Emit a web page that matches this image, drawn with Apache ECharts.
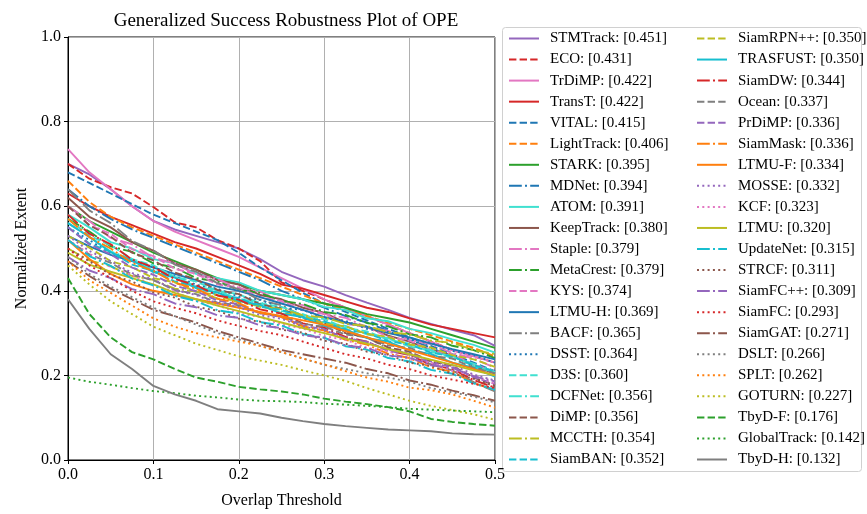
<!DOCTYPE html>
<html>
<head>
<meta charset="utf-8">
<script src="https://cdn.jsdelivr.net/npm/echarts@6/dist/echarts.min.js"></script>
<style>html,body{margin:0;padding:0;background:#fff}#c{width:867px;height:514px}</style>
</head>
<body>
<div id="c"></div>
<script>
// ---- data ----
const thresholds = [0,0.025,0.05,0.075,0.1,0.125,0.15,0.175,0.2,0.225,0.25,0.275,0.3,0.325,0.35,0.375,0.4,0.425,0.45,0.475,0.5];
const trackerNames = ['STMTrack','ECO','TrDiMP','TransT','VITAL','LightTrack','STARK','MDNet','ATOM','KeepTrack','Staple','MetaCrest','KYS','LTMU-H','BACF','DSST','D3S','DCFNet','DiMP','MCCTH','SiamBAN','SiamRPN++','TRASFUST','SiamDW','Ocean','PrDiMP','SiamMask','LTMU-F','MOSSE','KCF','LTMU','UpdateNet','STRCF','SiamFC++','SiamFC','SiamGAT','DSLT','SPLT','GOTURN','TbyD-F','GlobalTrack','TbyD-H'];
const trackerScores = ['0.451','0.431','0.422','0.422','0.415','0.406','0.395','0.394','0.391','0.380','0.379','0.379','0.374','0.369','0.365','0.364','0.360','0.356','0.356','0.354','0.352','0.350','0.350','0.344','0.337','0.336','0.336','0.334','0.332','0.323','0.320','0.315','0.311','0.309','0.293','0.271','0.266','0.262','0.227','0.176','0.142','0.132'];

const STMTrack = [0.70,0.675,0.64,0.60,0.565,0.545,0.53,0.515,0.50,0.475,0.445,0.425,0.41,0.39,0.372,0.355,0.336,0.322,0.308,0.295,0.27];
const ECO = [0.70,0.665,0.645,0.63,0.598,0.562,0.55,0.52,0.50,0.47,0.42,0.40,0.38,0.36,0.34,0.32,0.30,0.28,0.26,0.245,0.23];
const TrDiMP = [0.735,0.68,0.64,0.60,0.565,0.54,0.52,0.50,0.48,0.455,0.43,0.405,0.38,0.36,0.34,0.32,0.30,0.28,0.26,0.245,0.23];
const TransT = [0.63,0.60,0.575,0.555,0.535,0.515,0.50,0.48,0.46,0.44,0.415,0.405,0.39,0.375,0.36,0.35,0.335,0.32,0.31,0.30,0.29];
const VITAL = [0.68,0.655,0.63,0.605,0.58,0.56,0.54,0.52,0.49,0.455,0.425,0.395,0.37,0.35,0.33,0.31,0.29,0.27,0.25,0.23,0.21];
const LightTrack = [0.66,0.61,0.575,0.55,0.53,0.51,0.49,0.47,0.45,0.43,0.41,0.39,0.37,0.355,0.34,0.325,0.31,0.295,0.28,0.265,0.245];
const STARK = [0.60,0.565,0.54,0.515,0.49,0.47,0.45,0.43,0.415,0.40,0.39,0.38,0.37,0.36,0.345,0.335,0.325,0.31,0.295,0.28,0.265];
const MDNet = [0.64,0.60,0.57,0.545,0.525,0.505,0.485,0.465,0.445,0.425,0.40,0.38,0.36,0.34,0.325,0.305,0.285,0.265,0.245,0.225,0.205];
const ATOM = [0.58,0.55,0.515,0.50,0.475,0.465,0.44,0.43,0.42,0.40,0.39,0.38,0.362,0.355,0.335,0.328,0.31,0.30,0.285,0.272,0.254];
const KeepTrack = [0.62,0.575,0.55,0.515,0.495,0.465,0.45,0.425,0.415,0.39,0.38,0.36,0.348,0.325,0.315,0.294,0.28,0.26,0.248,0.222,0.204];
const Staple = [0.60,0.565,0.525,0.51,0.478,0.465,0.438,0.428,0.405,0.398,0.375,0.366,0.345,0.336,0.314,0.305,0.284,0.274,0.253,0.24,0.218];
const MetaCrest = [0.57,0.54,0.505,0.492,0.465,0.455,0.43,0.422,0.402,0.395,0.376,0.369,0.35,0.343,0.324,0.316,0.297,0.29,0.27,0.26,0.241];
const KYS = [0.60,0.555,0.535,0.498,0.482,0.452,0.44,0.415,0.408,0.385,0.376,0.354,0.345,0.322,0.314,0.291,0.282,0.26,0.25,0.226,0.209];
const LTMU_H = [0.53,0.505,0.485,0.47,0.455,0.44,0.425,0.41,0.40,0.385,0.37,0.355,0.338,0.325,0.315,0.30,0.29,0.275,0.262,0.25,0.238];
const BACF = [0.64,0.59,0.56,0.518,0.495,0.462,0.445,0.418,0.404,0.378,0.366,0.34,0.328,0.302,0.29,0.263,0.25,0.226,0.212,0.184,0.162];
const DSST = [0.55,0.52,0.488,0.472,0.448,0.436,0.414,0.405,0.386,0.379,0.36,0.355,0.335,0.329,0.31,0.303,0.285,0.277,0.258,0.248,0.23];
const D3S = [0.57,0.53,0.508,0.475,0.46,0.433,0.422,0.40,0.392,0.37,0.362,0.342,0.333,0.312,0.304,0.284,0.275,0.255,0.246,0.222,0.207];
const DCFNet = [0.56,0.528,0.493,0.475,0.447,0.435,0.41,0.401,0.38,0.373,0.352,0.345,0.325,0.317,0.297,0.288,0.268,0.26,0.24,0.228,0.208];
const DiMP = [0.60,0.555,0.528,0.49,0.472,0.443,0.427,0.402,0.392,0.368,0.358,0.335,0.324,0.30,0.29,0.266,0.256,0.233,0.222,0.195,0.177];
const MCCTH = [0.50,0.472,0.458,0.435,0.426,0.405,0.398,0.382,0.377,0.362,0.357,0.342,0.337,0.322,0.317,0.302,0.297,0.282,0.277,0.26,0.25];
const SiamBAN = [0.55,0.512,0.492,0.462,0.447,0.422,0.41,0.39,0.383,0.362,0.355,0.336,0.328,0.308,0.30,0.281,0.273,0.254,0.245,0.224,0.209];
const SiamRPNpp = [0.53,0.502,0.47,0.456,0.43,0.42,0.398,0.39,0.372,0.366,0.347,0.341,0.322,0.316,0.298,0.291,0.273,0.266,0.248,0.238,0.22];
const TRASFUST = [0.56,0.527,0.491,0.472,0.444,0.431,0.406,0.396,0.376,0.367,0.346,0.338,0.317,0.309,0.288,0.28,0.259,0.251,0.23,0.218,0.197];
const SiamDW = [0.58,0.535,0.51,0.474,0.456,0.428,0.413,0.389,0.379,0.356,0.346,0.323,0.313,0.291,0.28,0.258,0.248,0.225,0.215,0.189,0.171];
const Ocean = [0.52,0.486,0.466,0.438,0.425,0.402,0.392,0.372,0.366,0.347,0.34,0.322,0.315,0.297,0.29,0.271,0.265,0.246,0.24,0.218,0.205];
const PrDiMP = [0.55,0.51,0.486,0.455,0.438,0.412,0.399,0.377,0.368,0.347,0.338,0.318,0.309,0.288,0.279,0.258,0.25,0.229,0.22,0.196,0.18];
const SiamMask = [0.57,0.527,0.50,0.466,0.447,0.419,0.405,0.381,0.371,0.348,0.338,0.316,0.306,0.284,0.273,0.251,0.241,0.219,0.209,0.182,0.165];
const LTMU_F = [0.52,0.475,0.44,0.415,0.40,0.39,0.38,0.37,0.36,0.35,0.34,0.33,0.32,0.305,0.29,0.275,0.26,0.245,0.23,0.215,0.20];
const MOSSE = [0.53,0.494,0.47,0.442,0.427,0.402,0.39,0.37,0.362,0.342,0.334,0.315,0.307,0.288,0.28,0.26,0.253,0.233,0.225,0.202,0.188];
const KCF = [0.52,0.488,0.456,0.437,0.412,0.398,0.376,0.366,0.347,0.338,0.32,0.311,0.293,0.284,0.265,0.257,0.238,0.23,0.211,0.199,0.18];
const LTMU = [0.49,0.462,0.445,0.43,0.415,0.395,0.38,0.365,0.352,0.338,0.325,0.312,0.30,0.287,0.275,0.262,0.25,0.237,0.225,0.212,0.20];
const UpdateNet = [0.52,0.482,0.459,0.429,0.413,0.388,0.376,0.354,0.346,0.326,0.318,0.298,0.289,0.269,0.261,0.241,0.233,0.213,0.204,0.181,0.166];
const STRCF = [0.50,0.47,0.438,0.422,0.396,0.384,0.362,0.353,0.334,0.327,0.308,0.301,0.282,0.275,0.256,0.249,0.23,0.223,0.204,0.192,0.174];
const SiamFCpp = [0.48,0.448,0.43,0.404,0.392,0.37,0.361,0.342,0.336,0.318,0.312,0.295,0.289,0.271,0.265,0.247,0.242,0.224,0.218,0.198,0.186];
const SiamFC = [0.50,0.46,0.43,0.40,0.375,0.36,0.347,0.33,0.317,0.305,0.295,0.28,0.265,0.25,0.24,0.225,0.215,0.20,0.19,0.18,0.17];
const SiamGAT = [0.47,0.435,0.405,0.38,0.355,0.34,0.325,0.305,0.29,0.275,0.26,0.25,0.24,0.23,0.215,0.205,0.188,0.178,0.164,0.153,0.14];
const DSLT = [0.48,0.44,0.41,0.385,0.36,0.34,0.32,0.30,0.285,0.27,0.255,0.24,0.225,0.215,0.205,0.195,0.185,0.17,0.16,0.15,0.136];
const SPLT = [0.47,0.425,0.395,0.365,0.335,0.315,0.30,0.29,0.28,0.27,0.255,0.24,0.226,0.21,0.195,0.185,0.171,0.165,0.155,0.14,0.124];
const GOTURN = [0.46,0.415,0.375,0.345,0.315,0.295,0.275,0.26,0.245,0.235,0.225,0.212,0.20,0.187,0.17,0.155,0.14,0.128,0.118,0.108,0.095];
const TbyD_F = [0.43,0.345,0.29,0.255,0.238,0.215,0.195,0.185,0.173,0.167,0.162,0.155,0.145,0.138,0.132,0.125,0.115,0.097,0.09,0.085,0.081];
const GlobalTrack = [0.195,0.185,0.178,0.17,0.163,0.158,0.152,0.148,0.143,0.14,0.139,0.137,0.133,0.131,0.128,0.125,0.121,0.119,0.117,0.115,0.113];
const TbyD_H = [0.38,0.31,0.25,0.215,0.175,0.155,0.14,0.12,0.115,0.11,0.10,0.092,0.085,0.08,0.076,0.072,0.07,0.068,0.063,0.061,0.06];

const trackerValues = [STMTrack,ECO,TrDiMP,TransT,VITAL,LightTrack,STARK,MDNet,ATOM,KeepTrack,Staple,MetaCrest,KYS,LTMU_H,BACF,DSST,D3S,DCFNet,DiMP,MCCTH,SiamBAN,SiamRPNpp,TRASFUST,SiamDW,Ocean,PrDiMP,SiamMask,LTMU_F,MOSSE,KCF,LTMU,UpdateNet,STRCF,SiamFCpp,SiamFC,SiamGAT,DSLT,SPLT,GOTURN,TbyD_F,GlobalTrack,TbyD_H];

// ---- styles ----
const C = {purple:'#9467bd',red:'#d62728',pink:'#e377c2',blue:'#1f77b4',orange:'#ff7f0e',green:'#2ca02c',turq:'#40e0d0',brown:'#8c564b',gray:'#7f7f7f',olive:'#bcbd22',cyan:'#17becf'};
const D = {solid:'solid',dashed:[7.4,3.2],dashdot:[12.8,3.2,2,3.2],dotted:[2,3.3]};
const styles = [
 ['purple','solid'],['red','dashed'],['pink','solid'],['red','solid'],['blue','dashed'],['orange','dashed'],['green','solid'],['blue','dashdot'],['turq','solid'],['brown','solid'],
 ['pink','dashdot'],['green','dashdot'],['pink','dashed'],['blue','solid'],['gray','dashdot'],['blue','dotted'],['turq','dashed'],['turq','dashdot'],['brown','dashed'],['olive','dashdot'],
 ['cyan','dashed'],['olive','dashed'],['cyan','solid'],['red','dashdot'],['gray','dashed'],['purple','dashed'],['orange','dashdot'],['orange','solid'],['purple','dotted'],['pink','dotted'],
 ['olive','solid'],['cyan','dashdot'],['brown','dotted'],['purple','dashdot'],['red','dotted'],['brown','dashdot'],['gray','dotted'],['orange','dotted'],['olive','dotted'],['green','dashed'],
 ['green','dotted'],['gray','solid']
];

const labels = trackerNames.map((n,i)=> n + ': [' + trackerScores[i] + ']');
const series = trackerValues.map((vals,i)=>({
  name: labels[i], type:'line', symbol:'none', animation:false,
  data: vals.map((v,j)=>[thresholds[j], v]),
  lineStyle:{color:C[styles[i][0]], width:1.9, type:D[styles[i][1]], cap:'butt'},
  itemStyle:{color:C[styles[i][0]], opacity:0}
}));

const FONT = '"Liberation Serif","DejaVu Serif",serif';
const legendCommon = {
  orient:'vertical', itemWidth:30, itemHeight:14, itemGap:6.05, padding:0,
  itemStyle:{opacity:0},
  textStyle:{fontFamily:FONT, fontSize:15, color:'#000', padding:[0,0,0,6]},
  selectedMode:false
};

const chart = echarts.init(document.getElementById('c'), null, {renderer:'canvas'});
chart.setOption({
  animation:false,
  backgroundColor:'#fff',
  title:{text:'Generalized Success Robustness Plot of OPE', left:281, textAlign:'center', top:7,
    textStyle:{fontFamily:FONT, fontSize:19, fontWeight:'normal', color:'#000'}},
  grid:{left:68, top:37, right:372, bottom:51, show:true, borderColor:'#000', borderWidth:1},
  xAxis:{type:'value', min:0, max:0.5, interval:0.1, name:'Overlap Threshold', nameLocation:'middle', nameGap:33,
    nameTextStyle:{fontFamily:FONT, fontSize:16, color:'#000'},
    axisLine:{show:true, lineStyle:{color:'#000', width:1}}, axisTick:{show:true, length:4, lineStyle:{color:'#000'}},
    axisLabel:{fontFamily:FONT, fontSize:16, color:'#000', margin:7, formatter:v=>v.toFixed(1)},
    splitLine:{show:true, lineStyle:{color:'#b0b0b0', width:1}}},
  yAxis:{type:'value', min:0, max:1, interval:0.2, name:'Normalized Extent', nameLocation:'middle', nameGap:38,
    nameTextStyle:{fontFamily:FONT, fontSize:16, color:'#000'},
    axisLine:{show:true, lineStyle:{color:'#000', width:1}}, axisTick:{show:true, length:4, lineStyle:{color:'#000'}},
    axisLabel:{fontFamily:FONT, fontSize:16, color:'#000', margin:7, formatter:v=>v.toFixed(1)},
    splitLine:{show:true, lineStyle:{color:'#b0b0b0', width:1}}},
  graphic:[{type:'rect', z:0, silent:true, shape:{x:502.5, y:27.5, width:359, height:444, r:3},
    style:{fill:'#fff', stroke:'#d0d0d0', lineWidth:1}}],
  legend:[
    Object.assign({}, legendCommon, {left:508, top:31, data:labels.slice(0,21)}),
    Object.assign({}, legendCommon, {left:696, top:31, data:labels.slice(21)})
  ],
  series: series
});
</script>
</body>
</html>
